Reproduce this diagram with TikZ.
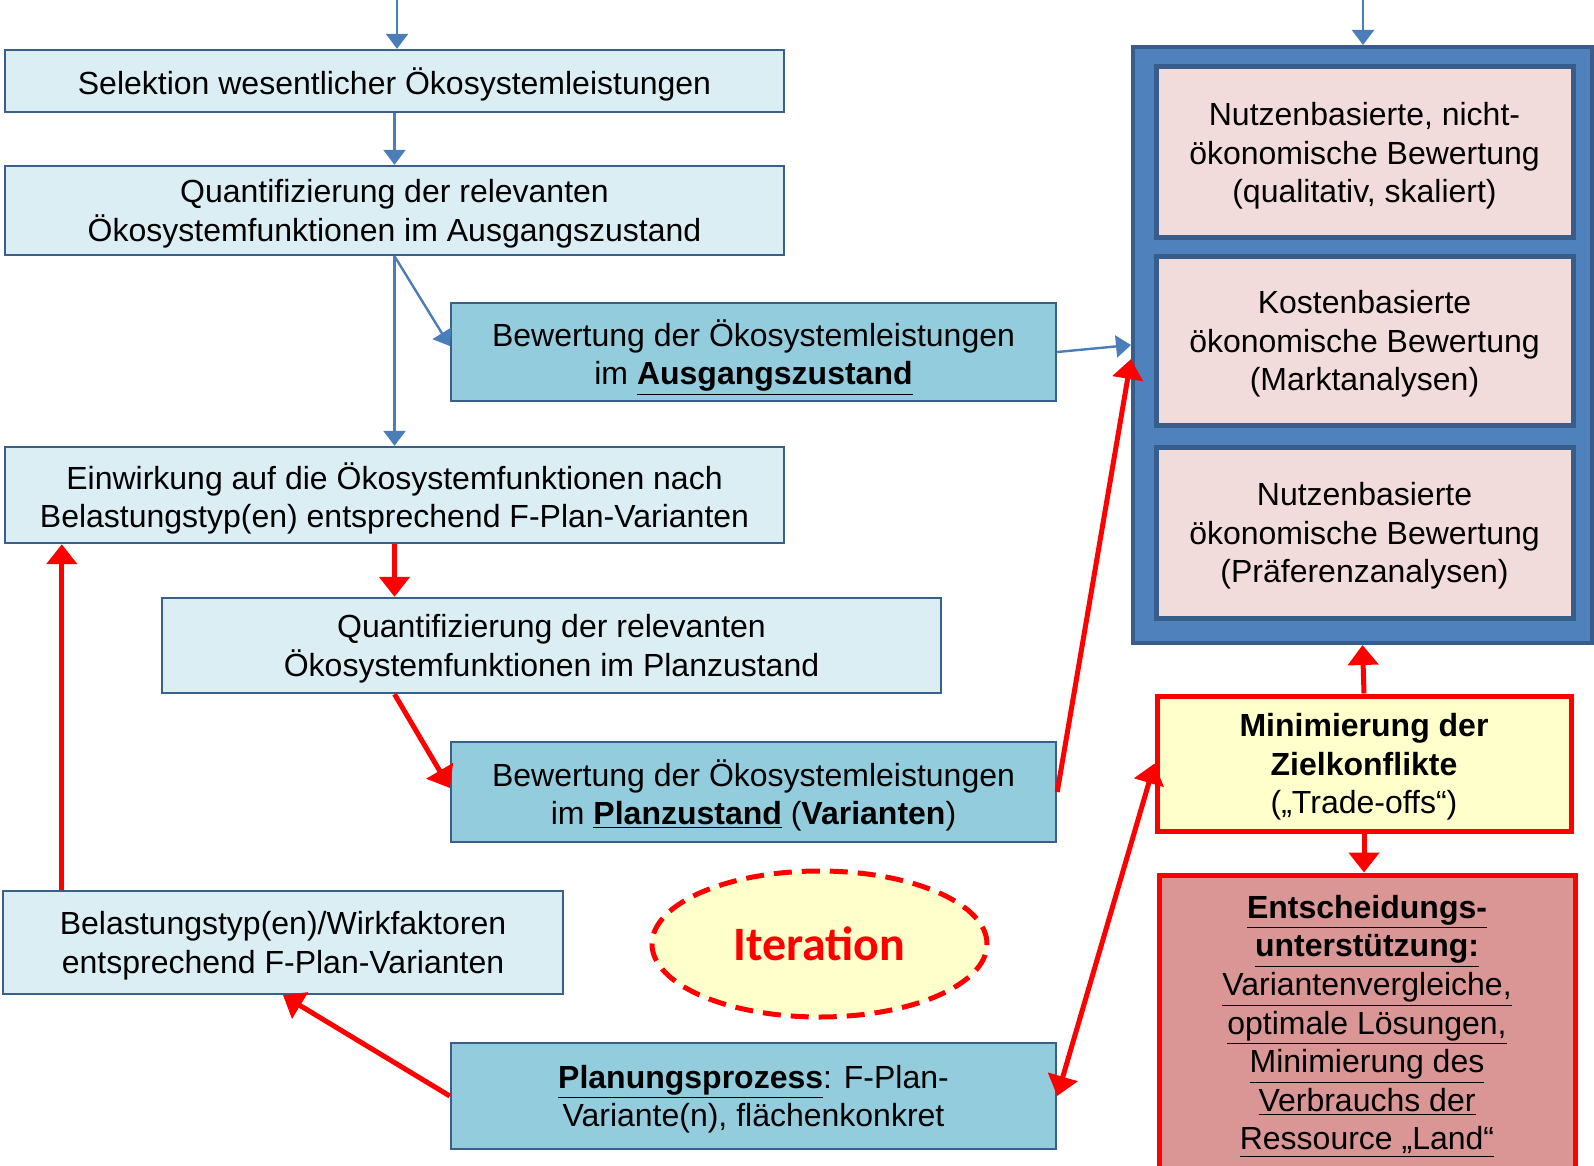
\documentclass[tikz,border=0pt]{standalone}
\usepackage{fontspec}
\setmainfont{Liberation Sans}
\newfontfamily\iterfont{Carlito}
\usepackage{xcolor}
\usetikzlibrary{arrows.meta, calc, positioning, shapes.geometric}
\definecolor{boxline}{HTML}{3A5F8B}
\definecolor{lightaqua}{HTML}{DBEEF4}
\definecolor{aqua}{HTML}{93CDDD}
\definecolor{accblue}{HTML}{4F81BD}
\definecolor{darkblue}{HTML}{385D8A}
\definecolor{rosa}{HTML}{F2DCDB}
\definecolor{paleyellow}{HTML}{FFFFCC}
\definecolor{oldrose}{HTML}{D99694}
\definecolor{arrowblue}{HTML}{4A7EBB}

\begin{document}
\begin{tikzpicture}[x=0.5pt, y=-0.5pt,
    txt/.style={font=\fontsize{16}{19.3}\selectfont, align=center, inner sep=0pt, text depth=0pt},
    lightbox/.style={txt, draw=boxline, line width=1.2pt, fill=lightaqua},
    aquabox/.style={txt, draw=boxline, line width=1.2pt, fill=aqua},
    rosabox/.style={txt, draw=darkblue, line width=2.5pt, fill=rosa, minimum width=208.5pt},
    redbox/.style={txt, draw=red, line width=2.5pt},
    bluearr/.style={arrowblue, line width=1.2pt, -{Triangle[width=11pt, length=7.5pt]}},
    redarr/.style={red, line width=2.5pt, -{Triangle[width=15pt, length=10pt]}},
    redboth/.style={red, line width=2.5pt, {Triangle[width=15pt, length=10pt]}-{Triangle[width=15pt, length=10pt]}}]
    \useasboundingbox (0,0) rectangle (1594,1166);
    \clip (0,0) rectangle (1594,1166);

    \node[lightbox, minimum width=389.5pt, minimum height=31pt] (sel) at (394.5,81) {Selektion wesentlicher Ökosystemleistungen};
    \node[lightbox, minimum width=389.5pt, minimum height=44.5pt] (quantA) at (394.5,210.5) {Quantifizierung der relevanten\\Ökosystemfunktionen im Ausgangszustand};
    \node[aquabox, minimum width=302.5pt, minimum height=49pt] (bewA) at (753.5,352) {Bewertung der Ökosystemleistungen\\im \underline{\textbf{Ausgangszustand}}};
    \node[lightbox, minimum width=389.5pt, minimum height=48pt] (einw) at (394.5,495) {Einwirkung auf die Ökosystemfunktionen nach\\Belastungstyp(en) entsprechend F-Plan-Varianten};
    \node[lightbox, minimum width=389.5pt, minimum height=47.5pt] (quantB) at (551.5,645.5) {Quantifizierung der relevanten\\Ökosystemfunktionen im Planzustand};
    \node[aquabox, minimum width=302.5pt, minimum height=50pt] (bewB) at (753.5,792) {Bewertung der Ökosystemleistungen\\im \underline{\textbf{Planzustand}} (\textbf{Varianten})};
    \node[lightbox, minimum width=280pt, minimum height=51.5pt] (belast) at (283,942.5) {Belastungstyp(en)/Wirkfaktoren\\entsprechend F-Plan-Varianten};
    \node[aquabox, minimum width=302.5pt, minimum height=53pt] (plan) at (753.5,1096) {\underline{\textbf{Planungsprozess}}: F-Plan-\\Variante(n), flächenkonkret};

    \node[ellipse, draw=red, line width=2.5pt, dash pattern=on 9pt off 5pt, fill=paleyellow, minimum width=167.5pt, minimum height=73pt, inner sep=0pt] (iter) at (819.5,944) {\iterfont\bfseries\fontsize{24}{28}\selectfont\color{red}Iteration};

    \node[draw=darkblue, fill=accblue, line width=2pt, minimum width=229.5pt, minimum height=298pt] (bewCont) at (1362.5,345) {};
    \node[rosabox, minimum height=85.5pt] (nutzA) at (1364.5,152.5) {Nutzenbasierte, nicht-\\ökonomische Bewertung\\(qualitativ, skaliert)};
    \node[rosabox, minimum height=84.5pt] (kost) at (1364.5,340.5) {Kostenbasierte\\ökonomische Bewertung\\(Marktanalysen)};
    \node[rosabox, minimum height=85.5pt] (nutzB) at (1364.5,532.5) {Nutzenbasierte\\ökonomische Bewertung\\(Präferenzanalysen)};

    \node[redbox, fill=paleyellow, minimum width=207pt, minimum height=67.5pt] (minim) at (1364,763.5) {\textbf{Minimierung der}\\\textbf{Zielkonflikte}\\(„Trade-offs“)};
    \node[redbox, fill=oldrose, minimum width=208pt, minimum height=147.5pt] (entsch) at (1367,1022.5) {\underline{\textbf{Entscheidungs-}}\\\underline{\textbf{unterstützung:}}\\\underline{Variantenvergleiche,}\\\underline{optimale Lösungen,}\\\underline{Minimierung des}\\\underline{Verbrauchs der}\\\underline{Ressource „Land“}};

    \coordinate (inL) at (397,0);
    \coordinate (inR) at (1363,0);
    \coordinate (loopUp) at ([xshift=30pt]belast.north west);

    \draw[bluearr] (inL) -- (inL |- sel.north);
    \draw[bluearr] (sel.south) -- (quantA.north);
    \draw[bluearr] (quantA.south) -- ([yshift=3pt]bewA.west);
    \draw[bluearr] (quantA.south) -- (einw.north);
    \draw[bluearr] (bewA.east) -- (bewCont.west);
    \draw[bluearr] (inR) -- (inR |- bewCont.north);

    \draw[redarr] (einw.south) -- (quantB.north -| einw.south);
    \draw[redarr] (quantB.south -| quantA.south) -- ([yshift=2pt]bewB.west);
    \draw[redarr] (bewB.east) -- ([yshift=-7pt]bewCont.west);
    \draw[redarr] (loopUp) -- (loopUp |- einw.south);
    \draw[redarr] (plan.west) -- (belast.south);
    \draw[redarr] (minim.north) -- (bewCont.south);
    \draw[redarr] (minim.south) -- (minim.south |- entsch.north);
    \draw[redboth] (minim.west) -- (plan.east);
\end{tikzpicture}
\end{document}
